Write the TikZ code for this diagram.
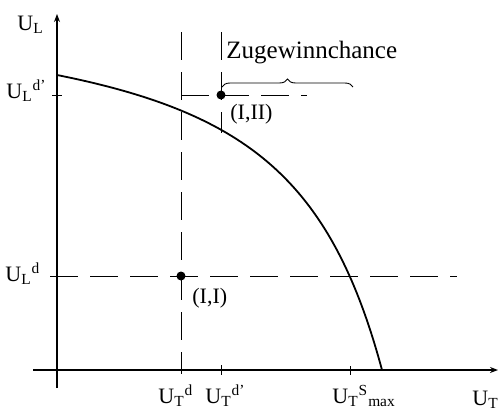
\documentclass[tikz,border=0pt]{standalone}
\usepackage{fontspec}
\setmainfont{Liberation Serif}
\usetikzlibrary{arrows.meta,decorations.pathreplacing}
\begin{document}
\begin{tikzpicture}[x=0.5pt,y=-0.5pt,
  lab/.style={anchor=base west,inner sep=0pt,font=\fontsize{11}{13}\selectfont},
  axis/.style={line width=0.9pt,-{Stealth[length=4pt,width=3pt]}},
  guide/.style={line width=0.35pt,dash pattern=on 14pt off 6pt},
  tickline/.style={line width=0.4pt},
  dotnode/.style={circle,fill=black,inner sep=0pt,minimum size=4.5pt},
  curveline/.style={line width=0.9pt},
  bracestyle/.style={line width=0.45pt,decorate,decoration={brace,amplitude=4pt}}]
\useasboundingbox (0,0) rectangle (499,413);
% axes
\coordinate (ybot) at (57,388);
\coordinate (ytop) at (57,14);
\coordinate (xleft) at (33,370);
\coordinate (xright) at (498,370);
\draw[axis] (ybot) -- (ytop);
\draw[axis] (xleft) -- (xright);
% points
\node[dotnode] (p1) at (181,276) {};
\node[dotnode] (p2) at (221,95) {};
% guide coordinates
\coordinate (v1top) at (181,32);
\coordinate (v1bot) at (181,374);
\coordinate (v2top) at (221,32);
\coordinate (v2bot) at (221,133);
\coordinate (h1left) at (181,95);
\coordinate (h1right) at (307,95);
\coordinate (h2left) at (50,276);
\coordinate (h2right) at (457,276);
\draw[guide] (v1top) -- (v1bot);
\draw[guide] (v2top) -- (v2bot);
\draw[guide] (h1left) -- (h1right);
\draw[guide] (h2left) -- (h2right);
% ticks
\coordinate (ty1) at (52,95);
\coordinate (ty2) at (62,95);
\draw[tickline] (ty1) -- (ty2);
\coordinate (tx1a) at (221,365);
\coordinate (tx1b) at (221,375);
\draw[tickline] (tx1a) -- (tx1b);
\coordinate (tx2a) at (350,366);
\coordinate (tx2b) at (350,375);
\draw[tickline] (tx2a) -- (tx2b);
% frontier curve
\coordinate (cstart) at (57,75);
\coordinate (cend) at (382,370);
\draw[curveline] (cstart) .. controls (247,113) and (331,180) .. (cend);
% brace
\coordinate (bl) at (222,87);
\coordinate (br) at (353,87);
\draw[bracestyle] (bl) -- (br);
% labels
\node[lab] (lUL) at (17,30) {U\textsubscript{L}};
\node[lab] (lULdp) at (6,98) {U\textsubscript{L}\textsuperscript{d'}};
\node[lab] (lULd) at (5,281) {U\textsubscript{L}\textsuperscript{d}};
\node[lab] (lUTd) at (158,403) {U\textsubscript{T}\textsuperscript{d}};
\node[lab] (lUTdp) at (205,403) {U\textsubscript{T}\textsuperscript{d'}};
\node[lab] (lUTs) at (332,403) {U\textsubscript{T}\textsuperscript{S}\textsubscript{max}};
\node[lab] (lUT) at (472,405) {U\textsubscript{T}};
\node[lab,font=\fontsize{12.5}{14}\selectfont] (lzug) at (226,58) {Zugewinnchance};
\node[lab] (lI2) at (230,119) {(I,II)};
\node[lab] (lI1) at (192,303) {(I,I)};
\end{tikzpicture}
\end{document}
